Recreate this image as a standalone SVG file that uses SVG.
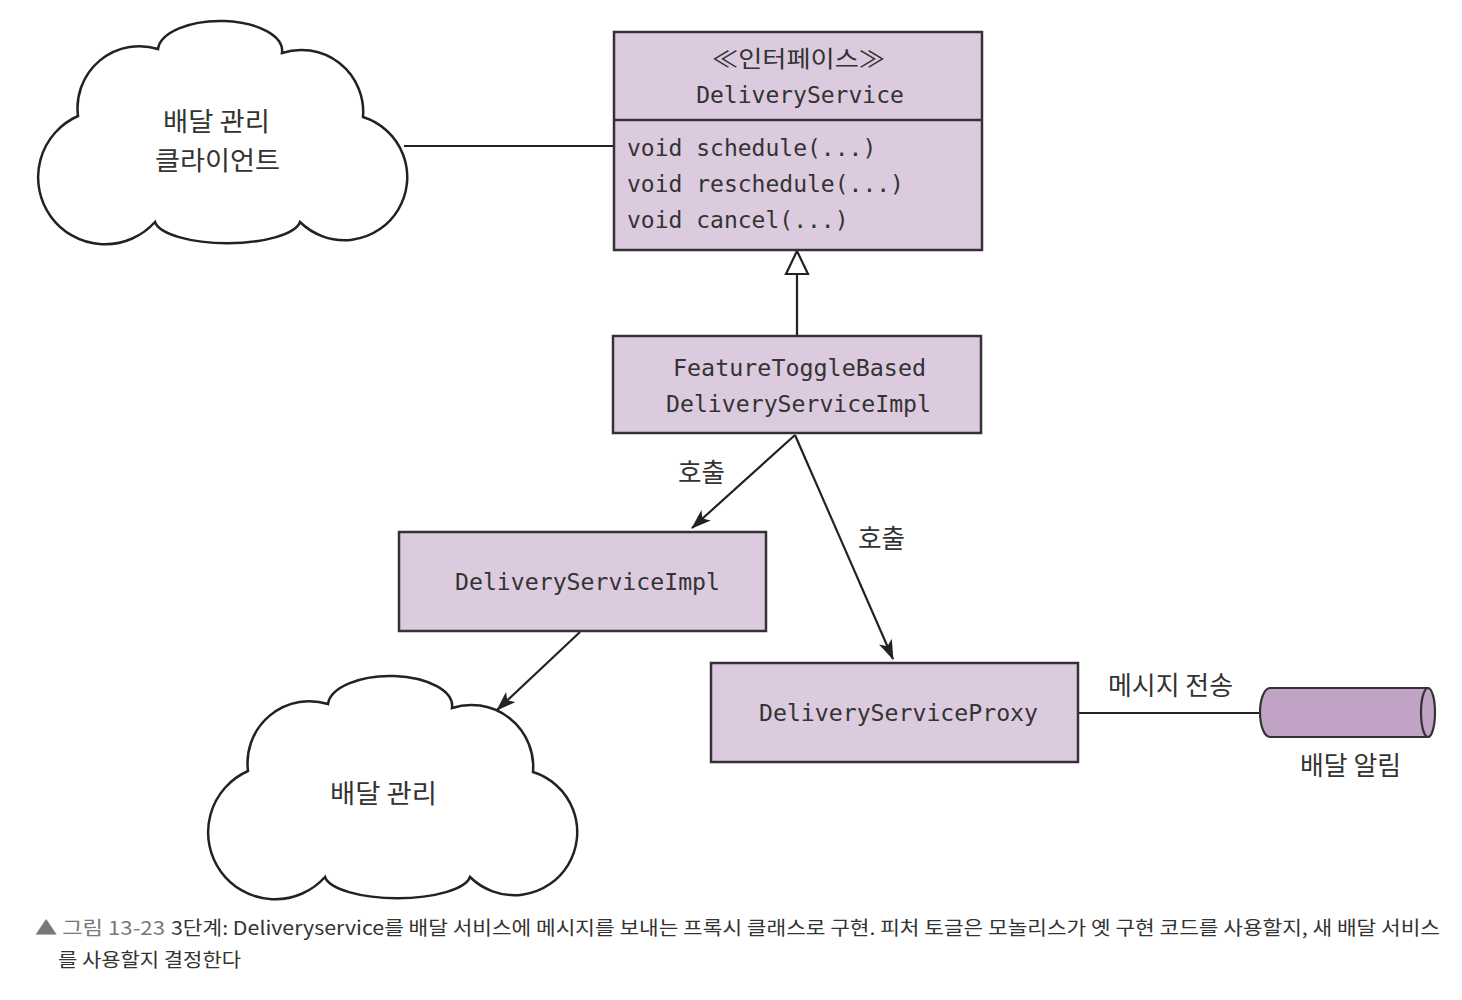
<svg xmlns="http://www.w3.org/2000/svg" width="1462" height="1000" viewBox="0 0 1462 1000">
<style>
.box{fill:#dccbde;stroke:#333;stroke-width:2.5}
.cloud{fill:#fff;stroke:#222;stroke-width:2.5}
.code{font-family:"DejaVu Sans Mono","Noto Sans CJK KR",monospace;font-size:23px;fill:#333}
.lbl{font-family:"Noto Sans CJK KR","Noto Sans",sans-serif;font-size:26px;fill:#333}
.edge{stroke:#222;stroke-width:2.2;fill:none}
.cap{font-family:"Noto Sans CJK KR","Noto Sans",sans-serif;font-size:19px;fill:#333}
</style>
<defs>
<marker id="arr" markerUnits="userSpaceOnUse" markerWidth="20" markerHeight="14" refX="19" refY="7" orient="auto">
<path d="M0,0 L20,7 L0,14 L5,7 Z" fill="#222"/>
</marker>
</defs>
<rect width="1462" height="1000" fill="#fff"/>

<g id="connectors">
<line class="edge" x1="404" y1="146" x2="614" y2="146"/>
<line class="edge" x1="797" y1="274" x2="797" y2="336"/>
<polygon points="797,251 808,274 786,274" fill="#fff" stroke="#222" stroke-width="2.2"/>
<line class="edge" x1="795" y1="435" x2="692" y2="528" marker-end="url(#arr)"/>
<line class="edge" x1="795" y1="435" x2="893" y2="659" marker-end="url(#arr)"/>
<line class="edge" x1="580" y1="632" x2="497" y2="710" marker-end="url(#arr)"/>
<line class="edge" x1="1078" y1="713" x2="1262" y2="713"/>
<text class="lbl" x="678" y="482" textLength="47" lengthAdjust="spacingAndGlyphs">호출</text>
<text class="lbl" x="858" y="548" textLength="47" lengthAdjust="spacingAndGlyphs">호출</text>
<text class="lbl" x="1108" y="695" textLength="125" lengthAdjust="spacingAndGlyphs">메시지 전송</text>
</g>

<g id="client-cloud">
<path class="cloud" d="M158,49 A62,30 0 0 1 282,53 A62,62 0 0 1 363,117 A63,63 0 1 1 300,222 A73,24 0 0 1 155,222 A67,67 0 1 1 78,116 A62,62 0 0 1 158,49 Z"/>
<text class="lbl" x="163" y="131" textLength="107" lengthAdjust="spacingAndGlyphs">배달 관리</text>
<text class="lbl" x="155" y="170" textLength="125" lengthAdjust="spacingAndGlyphs">클라이언트</text>
</g>

<g id="delivery-service">
<rect class="box" x="614" y="32" width="368" height="218"/>
<line x1="614" y1="120" x2="982" y2="120" stroke="#333" stroke-width="2.5"/>
<text class="code" x="712" y="67" textLength="173" lengthAdjust="spacingAndGlyphs">≪인터페이스≫</text>
<text class="code" x="800" y="103" text-anchor="middle">DeliveryService</text>
<text class="code" x="627" y="156">void schedule(...)</text>
<text class="code" x="627" y="192">void reschedule(...)</text>
<text class="code" x="627" y="228">void cancel(...)</text>
</g>

<g id="feature-toggle">
<rect class="box" x="613" y="336" width="368" height="97"/>
<text class="code" x="673" y="376" textLength="253" lengthAdjust="spacingAndGlyphs">FeatureToggleBased</text>
<text class="code" x="666" y="412" textLength="265" lengthAdjust="spacingAndGlyphs">DeliveryServiceImpl</text>
</g>

<g id="delivery-impl">
<rect class="box" x="399" y="532" width="367" height="99"/>
<text class="code" x="455" y="590" textLength="265" lengthAdjust="spacingAndGlyphs">DeliveryServiceImpl</text>
</g>

<g id="delivery-cloud">
<path class="cloud" transform="translate(170,655)" d="M158,49 A62,30 0 0 1 282,53 A62,62 0 0 1 363,117 A63,63 0 1 1 300,222 A73,24 0 0 1 155,222 A67,67 0 1 1 78,116 A62,62 0 0 1 158,49 Z"/>
<text class="lbl" x="330" y="803" textLength="107" lengthAdjust="spacingAndGlyphs">배달 관리</text>
</g>

<g id="delivery-proxy">
<rect class="box" x="711" y="663" width="367" height="99"/>
<text class="code" x="759" y="721" textLength="279" lengthAdjust="spacingAndGlyphs">DeliveryServiceProxy</text>
</g>

<g id="notification-channel">
<path d="M1428,688 L1270,688 A10,24.5 0 0 0 1270,737 L1428,737 Z" fill="#c1a3c5" stroke="#333" stroke-width="2.2"/>
<ellipse cx="1428" cy="712.5" rx="7" ry="24.5" fill="#c1a3c5" stroke="#333" stroke-width="2.2"/>
<text class="lbl" x="1300" y="775" textLength="101" lengthAdjust="spacingAndGlyphs">배달 알림</text>
</g>

<g id="caption">
<text class="cap" x="35" y="935" style="fill:#777" textLength="130" lengthAdjust="spacingAndGlyphs">▲ 그림 13-23</text>
<text class="cap" x="171" y="935" textLength="1269" lengthAdjust="spacingAndGlyphs">3단계: Deliveryservice를 배달 서비스에 메시지를 보내는 프록시 클래스로 구현. 피처 토글은 모놀리스가 옛 구현 코드를 사용할지, 새 배달 서비스</text>
<text class="cap" x="58" y="967" textLength="183" lengthAdjust="spacingAndGlyphs">를 사용할지 결정한다</text>
</g>
</svg>
